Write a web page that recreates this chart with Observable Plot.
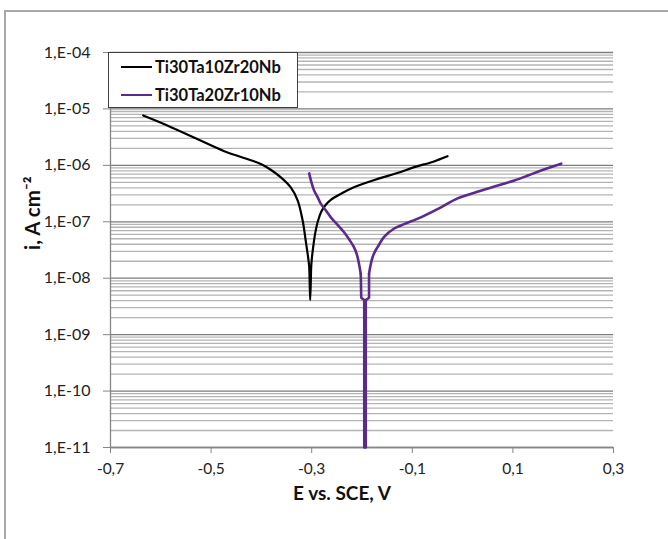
<!DOCTYPE html>
<html>
<head>
<meta charset="utf-8">
<script src="https://cdn.jsdelivr.net/npm/d3@7"></script>
<script src="https://cdn.jsdelivr.net/npm/@observablehq/plot@0.6"></script>
<style>
  html, body { margin: 0; padding: 0; background: #fff; overflow: hidden; }
  #wrap { position: relative; width: 668px; height: 539px; font-family: Lato, "Open Sans", sans-serif; }
  #frame { position: absolute; left: 4px; top: 10px; width: 700px; height: 600px;
           border-left: 2px solid #a8a8a8; border-top: 2px solid #a8a8a8; }
  #chart { position: absolute; left: 0; top: 0; }
  #legend { position: absolute; left: 108px; top: 52px; width: 188px; height: 54px;
            border: 1.5px solid #404040; background: #fff; }
  .row { position: absolute; left: 12px; height: 20px; display: flex; align-items: center; }
  .sw { width: 31px; height: 0; margin-right: 3px; }
  .lab { font-weight: bold; font-size: 16.5px; color: #111; white-space: nowrap; }
</style>
</head>
<body>
<div id="wrap">
  <div id="frame"></div>
  <div id="chart"></div>
  <div id="legend"></div>
</div>
<script>
// ---- data ----
const seriesNames = ["Ti30Ta10Zr20Nb", "Ti30Ta20Zr10Nb"];
const seriesColors = ["#000000", "#5b2a8c"];

const blackE = [-0.635, -0.587, -0.521, -0.475, -0.421, -0.400, -0.380, -0.362, -0.342, -0.328, -0.318,
  -0.312, -0.307, -0.305, -0.303, -0.301, -0.300, -0.297, -0.293, -0.288, -0.281, -0.272, -0.262,
  -0.240, -0.216, -0.169, -0.130, -0.096, -0.060, -0.030];
const blackI = [7.66e-6, 5.1e-6, 2.75e-6, 1.8e-6, 1.23e-6, 1.05e-6, 8.2e-7, 6.2e-7, 4.1e-7, 2.4e-7, 1.05e-7,
  4.7e-8, 2.3e-8, 1.6e-8, 4.1e-9, 1.6e-8, 2.1e-8, 3.6e-8, 6.3e-8, 1.0e-7, 1.5e-7, 2.0e-7, 2.45e-7,
  3.2e-7, 4.1e-7, 5.75e-7, 7.3e-7, 9.3e-7, 1.15e-6, 1.45e-6];

const purpleE = [-0.305, -0.300, -0.295, -0.288, -0.282, -0.272, -0.262, -0.249, -0.236, -0.225, -0.216,
  -0.210, -0.206, -0.2025, -0.2015, -0.1955,
  -0.1955, -0.1925, -0.1925, -0.186, -0.186, -0.183, -0.179, -0.174, -0.169, -0.156, -0.136,
  -0.116, -0.083, -0.043, -0.010, 0.036, 0.070, 0.103, 0.130, 0.156, 0.196];
const purpleI = [7.2e-7, 4.8e-7, 3.55e-7, 2.7e-7, 2.1e-7, 1.6e-7, 1.2e-7, 8.9e-8, 6.6e-8, 4.8e-8, 3.55e-8,
  2.6e-8, 1.8e-8, 1.2e-8, 4.5e-9, 4.1e-9,
  1e-11, 1e-11, 4.1e-9, 4.5e-9, 1.2e-8, 1.7e-8, 2.35e-8, 3.0e-8, 3.55e-8, 5.4e-8, 7.6e-8,
  9.1e-8, 1.2e-7, 1.8e-7, 2.6e-7, 3.55e-7, 4.4e-7, 5.4e-7, 6.6e-7, 8.1e-7, 1.07e-6];

const xTicks = [-0.7, -0.5, -0.3, -0.1, 0.1, 0.3];
const yMajor = [1e-11, 1e-10, 1e-9, 1e-8, 1e-7, 1e-6, 1e-5, 1e-4];
const xLabel = "E vs. SCE, V";
const yLabel = "i, A cm⁻²";

// ---- build ----
const yMinor = [];
for (let e = -11; e < -4; e++) for (let m = 2; m <= 9; m++) yMinor.push(m * Math.pow(10, e));

const black = blackE.map((E, k) => ({E, i: blackI[k]}));
const purple = purpleE.map((E, k) => ({E, i: purpleI[k]}));
// the near-vertical dip of the purple curve is drawn straight, the branches smoothed
const stemStart = 13, stemEnd = 20;
const purpleCath = purple.slice(0, stemStart + 1);
const purpleStem = purple.slice(stemStart, stemEnd + 1);
const purpleAnod = purple.slice(stemEnd);

const fmtY = d => "1,E-" + String(-Math.round(Math.log10(d))).padStart(2, "0");
const fmtX = d => d.toFixed(1).replace(".", ",");

const pStyle = {x: "E", y: "i", stroke: seriesColors[1], strokeWidth: 2.6, strokeLinejoin: "round"};

const chart = Plot.plot({
  width: 668, height: 539,
  marginLeft: 110, marginRight: 55, marginTop: 52, marginBottom: 92,
  style: {fontFamily: "Lato, 'Open Sans', sans-serif", background: "transparent"},
  x: {domain: [-0.7, 0.3]},
  y: {type: "log", domain: [1e-11, 1e-4]},
  marks: [
    Plot.ruleY(yMinor, {stroke: "#b4b4b4", strokeWidth: 1.3}),
    Plot.ruleY(yMajor, {stroke: "#7c7c7c", strokeWidth: 1.3}),
    Plot.ruleX([-0.7], {stroke: "#868686", strokeWidth: 1.3}),
    Plot.ruleY([1e-11], {stroke: "#868686", strokeWidth: 1.3}),
    Plot.axisX({ticks: xTicks, tickFormat: fmtX, tickSize: 6, tickPadding: 9, fontSize: 15.5,
      stroke: "#868686", fill: "#222", label: null}),
    Plot.axisY({ticks: yMajor, tickFormat: fmtY, tickSize: 7, tickPadding: 13, fontSize: 16,
      stroke: "#868686", fill: "#222", label: null}),
    Plot.line(black, {x: "E", y: "i", stroke: seriesColors[0], strokeWidth: 2.2, strokeLinejoin: "round",
      curve: "catmull-rom"}),
    Plot.line(purpleCath, {...pStyle, curve: "catmull-rom"}),
    Plot.line(purpleStem, {...pStyle, curve: "linear"}),
    Plot.line(purpleAnod, {...pStyle, curve: "catmull-rom"}),
    Plot.text([xLabel], {text: d => d, frameAnchor: "bottom", dy: 52, dx: -20, fontSize: 19,
      fontWeight: "bold", fill: "#111"}),
    Plot.text([yLabel], {text: d => d, frameAnchor: "left", dx: -77, rotate: -90, fontSize: 20.5,
      fontWeight: "bold", fill: "#111"})
  ]
});
document.getElementById("chart").appendChild(chart);

// legend
const leg = document.getElementById("legend");
seriesNames.forEach((name, k) => {
  const row = document.createElement("div");
  row.className = "row";
  row.style.top = (4 + k * 27.5) + "px";
  const sw = document.createElement("div");
  sw.className = "sw";
  sw.style.borderTop = "2.4px solid " + seriesColors[k];
  const lab = document.createElement("span");
  lab.className = "lab";
  lab.textContent = name;
  row.appendChild(sw); row.appendChild(lab);
  leg.appendChild(row);
});
</script>
</body>
</html>
